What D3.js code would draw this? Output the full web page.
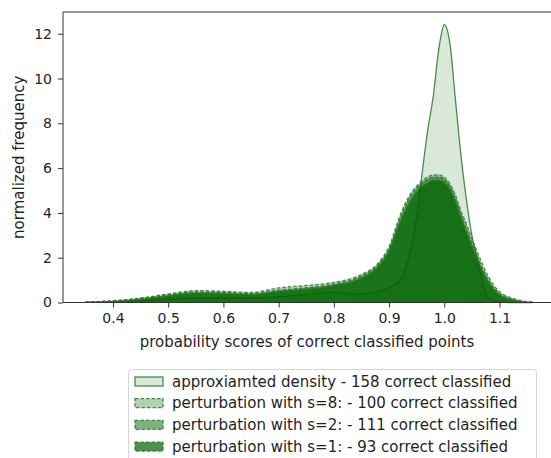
<!DOCTYPE html>
<html>
<head>
<meta charset="utf-8">
<script src="https://cdn.jsdelivr.net/npm/d3@7"></script>
<style>
  body { margin: 0; background: #fff; }
  svg text { font-family: "DejaVu Sans", sans-serif; fill: #1f1f1f; }
</style>
</head>
<body>
<svg id="chart" width="551" height="458"></svg>
<script>
// score grid shared by all density curves (finer around the peak)
const scores = [0.35, 0.40, 0.45, 0.50, 0.55, 0.60, 0.65, 0.70, 0.75, 0.80, 0.85, 0.88,
  0.90, 0.92, 0.94, 0.95, 0.96, 0.97, 0.98, 0.99, 1.00, 1.01, 1.02, 1.03, 1.04, 1.05,
  1.06, 1.08, 1.10, 1.12, 1.14, 1.16];

const approxDensity = [0.01, 0.03, 0.07, 0.13, 0.2, 0.2, 0.2, 0.26, 0.35, 0.45, 0.36, 0.5,
  0.65, 1.0, 2.5, 3.8, 5.8, 7.7, 9.2, 11.3, 12.4, 11.6, 9.1, 6.6, 4.6, 3.0,
  1.9, 0.2, 0.02, 0, 0, 0];
const pertS8 = [0.02, 0.08, 0.2, 0.38, 0.53, 0.5, 0.45, 0.65, 0.76, 0.9, 1.25, 1.75,
  2.5, 3.9, 4.9, 5.2, 5.45, 5.6, 5.7, 5.7, 5.6, 5.3, 4.8, 4.1, 3.5, 2.85,
  2.25, 1.15, 0.48, 0.22, 0.08, 0.01];
const pertS2 = [0.02, 0.07, 0.18, 0.34, 0.47, 0.45, 0.4, 0.55, 0.66, 0.82, 1.18, 1.68,
  2.4, 3.75, 4.8, 5.1, 5.35, 5.5, 5.6, 5.6, 5.5, 5.2, 4.65, 3.95, 3.3, 2.65,
  2.05, 1.0, 0.4, 0.17, 0.05, 0.01];
const pertS1 = [0.01, 0.05, 0.15, 0.3, 0.42, 0.4, 0.36, 0.5, 0.6, 0.76, 1.1, 1.6,
  2.3, 3.6, 4.6, 4.95, 5.2, 5.35, 5.45, 5.45, 5.35, 5.05, 4.5, 3.8, 3.15, 2.5,
  1.9, 0.92, 0.35, 0.14, 0.04, 0.01];

const labels = [
  "approxiamted density - 158 correct classified",
  "perturbation with s=8: - 100 correct classified",
  "perturbation with s=2: - 111 correct classified",
  "perturbation with s=1: - 93 correct classified"
];
const xTicks = [0.4, 0.5, 0.6, 0.7, 0.8, 0.9, 1.0, 1.1];
const yTicks = [0, 2, 4, 6, 8, 10, 12];

const series = [
  { values: approxDensity, alpha: 0.15, dash: null },
  { values: pertS8, alpha: 0.3, dash: "3.5,2" },
  { values: pertS2, alpha: 0.5, dash: "3.5,2" },
  { values: pertS1, alpha: 0.7, dash: "3.5,2" }
];

const green = "#006400";
const edge = "#2a7a2a";

const svg = d3.select("#chart");
const pLeft = 63, pRight = 555, pTop = 12, pBottom = 302.5;

const x = d3.scaleLinear().domain([0.3095, 1.2005]).range([pLeft, pRight]);
const y = d3.scaleLinear().domain([0, 12.97]).range([pBottom, pTop]);

const area = d3.area()
  .x((d, i) => x(scores[i]))
  .y0(y(0))
  .y1(d => y(d))
  .curve(d3.curveMonotoneX);
const line = d3.line()
  .x((d, i) => x(scores[i]))
  .y(d => y(d))
  .curve(d3.curveMonotoneX);

const plot = svg.append("g");
series.forEach(s => {
  plot.append("path")
    .attr("d", area(s.values))
    .attr("fill", green)
    .attr("fill-opacity", s.alpha);
  plot.append("path")
    .attr("d", line(s.values))
    .attr("fill", "none")
    .attr("stroke", edge)
    .attr("stroke-opacity", 0.85)
    .attr("stroke-width", 1.3)
    .attr("stroke-dasharray", s.dash);
});

// axes
const xAxis = svg.append("g")
  .attr("transform", `translate(0,${pBottom})`)
  .call(d3.axisBottom(x).tickValues(xTicks).tickSize(5).tickPadding(5.5).tickFormat(d3.format(".1f")));
const yAxis = svg.append("g")
  .attr("transform", `translate(${pLeft},0)`)
  .call(d3.axisLeft(y).tickValues(yTicks).tickSize(5).tickPadding(6));
[xAxis, yAxis].forEach(a => {
  a.select(".domain").remove();
  a.selectAll("line").attr("stroke", "#333").attr("stroke-width", 1);
  a.selectAll("text").attr("font-size", 14).style("fill", "#1f1f1f");
});

// spines
svg.append("path")
  .attr("d", `M${pRight},${pTop}H${pLeft}V${pBottom}H${pRight}`)
  .attr("fill", "none")
  .attr("stroke", "#333")
  .attr("stroke-width", 1);

svg.append("text")
  .attr("x", 307)
  .attr("y", 347)
  .attr("text-anchor", "middle")
  .attr("font-size", 15)
  .text("probability scores of correct classified points");

svg.append("text")
  .attr("transform", `translate(24,${(pTop + pBottom) / 2}) rotate(-90)`)
  .attr("text-anchor", "middle")
  .attr("font-size", 15)
  .text("normalized frequency");

// legend
const legend = svg.append("g");
legend.append("rect")
  .attr("x", 128.5).attr("y", 369.5)
  .attr("width", 408).attr("height", 95)
  .attr("rx", 3)
  .attr("fill", "#fff")
  .attr("stroke", "#d6d6d6");
series.forEach((s, i) => {
  const cy = 381.5 + i * 21.7;
  legend.append("rect")
    .attr("x", 135).attr("y", cy - 4.5)
    .attr("width", 28).attr("height", 9)
    .attr("fill", d3.color(green).copy({ opacity: s.alpha }))
    .attr("stroke", edge)
    .attr("stroke-opacity", 0.85)
    .attr("stroke-width", 1.3)
    .attr("stroke-dasharray", s.dash);
  legend.append("text")
    .attr("x", 172).attr("y", cy)
    .attr("dy", "0.35em")
    .attr("font-size", 15)
    .text(labels[i]);
});
</script>
</body>
</html>
